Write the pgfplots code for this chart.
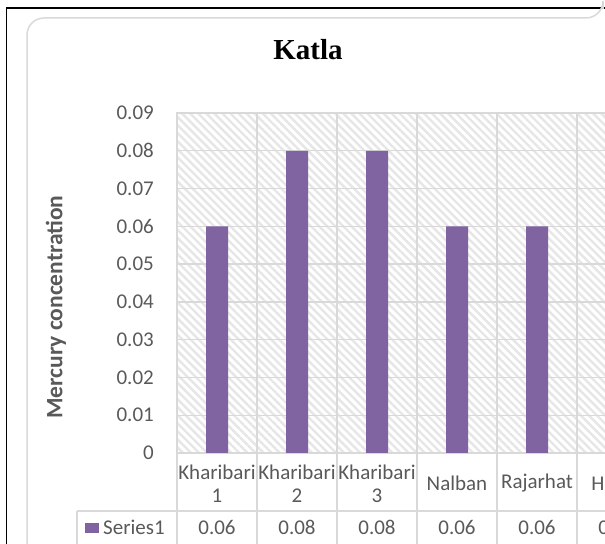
\documentclass[border=0pt]{standalone}
\usepackage{pgfplots}
\pgfplotsset{compat=1.18}
\usepackage{fontspec}
\setmainfont{Carlito}
\newfontfamily\titlefont{Liberation Serif}
\usetikzlibrary{patterns.meta}
\definecolor{barpurple}{HTML}{8064A2}
\definecolor{gridgray}{HTML}{D9D9D9}
\definecolor{hatchgray}{HTML}{E6E6E6}
\definecolor{textgray}{HTML}{595959}
\newcommand\tabfont{\fontsize{21bp}{23bp}\selectfont}
\begin{document}
\begin{tikzpicture}[x=1bp,y=1bp]
\begin{scope}
\clip (0,0) rectangle (605,544);
% outer frame
\draw[black, line width=1.5bp] (6.5,0) -- (6.5,536) -- (610,536);
% inner rounded chart area border
\draw[gridgray, line width=1.5bp, rounded corners=17bp] (27,-5) -- (27,526) -- (603,526) -- (603,535);
% title
\node[font={\titlefont\bfseries\fontsize{29bp}{32bp}\selectfont}, text=black] at (308,494) {Katla};
% y label
\node[rotate=90, font={\bfseries\fontsize{23.5bp}{26bp}\selectfont}, text=textgray] at (56,237) {Mercury concentration};
\begin{axis}[
  at={(177bp,91bp)}, anchor=south west,
  scale only axis, width=480bp, height=340bp,
  xmin=-0.5, xmax=5.5, ymin=0, ymax=0.09,
  xtick={-0.5,0.5,1.5,2.5,3.5,4.5,5.5}, xticklabels={},
  ytick={0,0.01,0.02,0.03,0.04,0.05,0.06,0.07,0.08,0.09},
  scaled y ticks=false,
  grid=major,
  major grid style={draw=gridgray, line width=1.3bp},
  axis line style={draw=gridgray, line width=1.3bp},
  major tick length=0pt,
  tick style={draw=none},
  yticklabel style={font=\tabfont, text=textgray, inner sep=0pt, xshift=-23bp,
    /pgf/number format/fixed, /pgf/number format/precision=2,
    /pgf/number format/assume math mode=true},
  axis background/.style={pattern={Lines[angle=-45,distance=5.7bp,line width=2.4bp]}, pattern color=hatchgray},
  clip=false,
]
\addplot[ybar, bar width=22bp, fill=barpurple, draw=none] coordinates {
  (0,0.06) (1,0.08) (2,0.08) (3,0.06) (4,0.06) (5,0.06)
};
% category labels
\node[font=\tabfont, text=textgray, align=center] at (axis cs:0,0) [yshift=-30.5bp] {Kharibari\\1};
\node[font=\tabfont, text=textgray, align=center] at (axis cs:1,0) [yshift=-30.5bp] {Kharibari\\2};
\node[font=\tabfont, text=textgray, align=center] at (axis cs:2,0) [yshift=-30.5bp] {Kharibari\\3};
\node[font=\tabfont, text=textgray, align=center] at (axis cs:3,0) [yshift=-30.5bp] {Nalban};
\node[font=\tabfont, text=textgray, align=center] at (axis cs:4,0) [yshift=-30.5bp] {Rajarhat};
\node[font=\tabfont, text=textgray, align=center] at (axis cs:5,0) [yshift=-30.5bp] {Haroa};
% values row
\node[font=\tabfont, text=textgray] at (axis cs:0,0) [yshift=-74bp] {0.06};
\node[font=\tabfont, text=textgray] at (axis cs:1,0) [yshift=-74bp] {0.08};
\node[font=\tabfont, text=textgray] at (axis cs:2,0) [yshift=-74bp] {0.08};
\node[font=\tabfont, text=textgray] at (axis cs:3,0) [yshift=-74bp] {0.06};
\node[font=\tabfont, text=textgray] at (axis cs:4,0) [yshift=-74bp] {0.06};
\node[font=\tabfont, text=textgray] at (axis cs:5,0) [yshift=-74bp] {0.06};
\end{axis}
% data table lines
\draw[gridgray, line width=1.3bp] (77,33) -- (610,33);
\draw[gridgray, line width=1.3bp] (77,33) -- (77,0);
\foreach \k in {0,...,5} { \draw[gridgray, line width=1.3bp] (177+80*\k,91) -- (177+80*\k,0); }
% legend key
\fill[barpurple] (85,11) rectangle (99,21);
\node[font=\tabfont, text=textgray, anchor=west, inner sep=0pt] at (103,17) {Series1};
\end{scope}
\end{tikzpicture}
\end{document}
